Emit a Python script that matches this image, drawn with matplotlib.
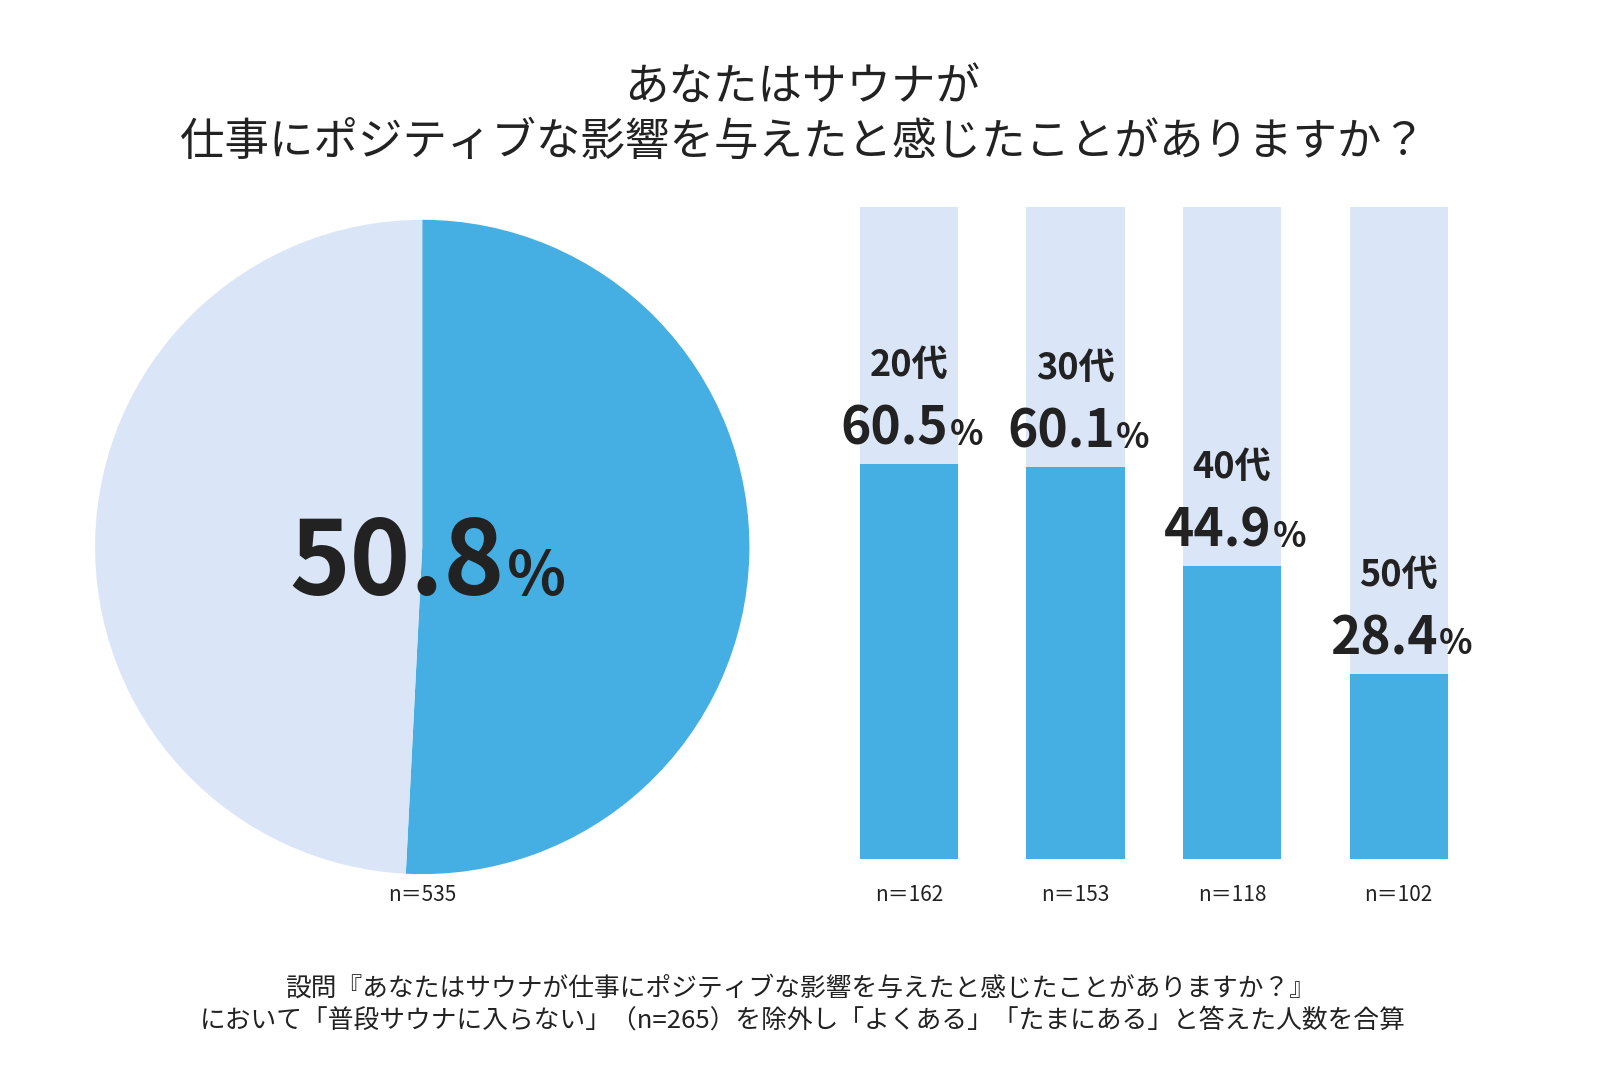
import matplotlib
matplotlib.use("Agg")
import matplotlib.pyplot as plt
from matplotlib.offsetbox import TextArea, HPacker, AnnotationBbox

plt.rcParams['font.family'] = ['Noto Sans CJK JP', 'DejaVu Sans']

# ---- data ----
title_lines = ["あなたはサウナが", "仕事にポジティブな影響を与えたと感じたことがありますか？"]
overall_value = 50.8
overall_n = 535
age_groups = ["20代", "30代", "40代", "50代"]
age_values = [60.5, 60.1, 44.9, 28.4]
age_n = [162, 153, 118, 102]
footnote = ["設問『あなたはサウナが仕事にポジティブな影響を与えたと感じたことがありますか？』",
            "において「普段サウナに入らない」（n=265）を除外し「よくある」「たまにある」と答えた人数を合算"]

BLUE = "#45AEE2"
LIGHT = "#DAE6F8"
DARK = "#222222"

W, H = 1600, 1077
S = 1600 / 1565  # layout measured on a scaled view
fig = plt.figure(figsize=(W / 100, H / 100), dpi=100)
fig.patch.set_facecolor("white")

# title
fig.text(785 * S / W, 1 - 86 * S / H, title_lines[0], ha="center", va="center", fontsize=32, color=DARK)
fig.text(785 * S / W, 1 - 139 * S / H, title_lines[1], ha="center", va="center", fontsize=32, color=DARK)

# ---- pie ----
cx, cy, r = 413 * S, 535 * S, 320 * S
axp = fig.add_axes([(cx - r) / W, 1 - (cy + r) / H, 2 * r / W, 2 * r / H])
axp.pie([overall_value, 100 - overall_value], colors=[BLUE, LIGHT], startangle=90,
        counterclock=False, radius=1.0, wedgeprops=dict(linewidth=0))
axp.set_xlim(-1, 1)
axp.set_ylim(-1, 1)
axp.set_aspect("equal")
axp.axis("off")

big = HPacker(children=[TextArea(f"{overall_value:.1f}", textprops=dict(fontsize=74, fontweight="bold", color=DARK)),
                        TextArea("%", textprops=dict(fontsize=44, fontweight="bold", color=DARK))],
              align="baseline", pad=0, sep=2)
axp.add_artist(AnnotationBbox(big, (0, 0), xybox=(4, -13), boxcoords="offset points", frameon=False,
                              box_alignment=(0.5, 0.5)))
axp.text(0, -1.065, f"n＝{overall_n}", ha="center", va="center", fontsize=15, color=DARK)

# ---- bars ----
bar_x = [x * S for x in (889, 1052, 1205, 1368)]  # layout positions (pixels)
bar_w = 96 * S
top_px, bot_px = 202 * S, 840 * S
axb = fig.add_axes([780 * S / W, 1 - bot_px / H, 700 * S / W, (bot_px - top_px) / H])
axb.set_xlim(780 * S, 1480 * S)
axb.set_ylim(0, 100)
axb.bar(bar_x, [100] * len(bar_x), width=bar_w, color=LIGHT, linewidth=0)
axb.bar(bar_x, age_values, width=bar_w, color=BLUE, linewidth=0)
axb.axis("off")

for x, v, g, n in zip(bar_x, age_values, age_groups, age_n):
    pct = HPacker(children=[TextArea(f"{v:.1f}", textprops=dict(fontsize=37, fontweight="bold", color=DARK)),
                            TextArea("%", textprops=dict(fontsize=25, fontweight="bold", color=DARK))],
                  align="baseline", pad=0, sep=1)
    axb.add_artist(AnnotationBbox(pct, (x, v), xybox=(2, 25), boxcoords="offset points", frameon=False,
                                  box_alignment=(0.5, 0.5)))
    axb.annotate(g, (x, v), xytext=(0, 71), textcoords="offset points", ha="center", va="center",
                 fontsize=26, fontweight="bold", color=DARK)
    axb.annotate(f"n＝{n}", (x, 0), xytext=(0, -26), textcoords="offset points", ha="center", va="center",
                 fontsize=15, color=DARK, annotation_clip=False)

# footnote
fig.text(783 * S / W, 1 - 967 * S / H, footnote[0], ha="center", va="center", fontsize=18.5, color=DARK)
fig.text(785 * S / W, 1 - 998 * S / H, footnote[1], ha="center", va="center", fontsize=18.5, color=DARK)

fig.savefig("out.png", dpi=100, facecolor="white")
